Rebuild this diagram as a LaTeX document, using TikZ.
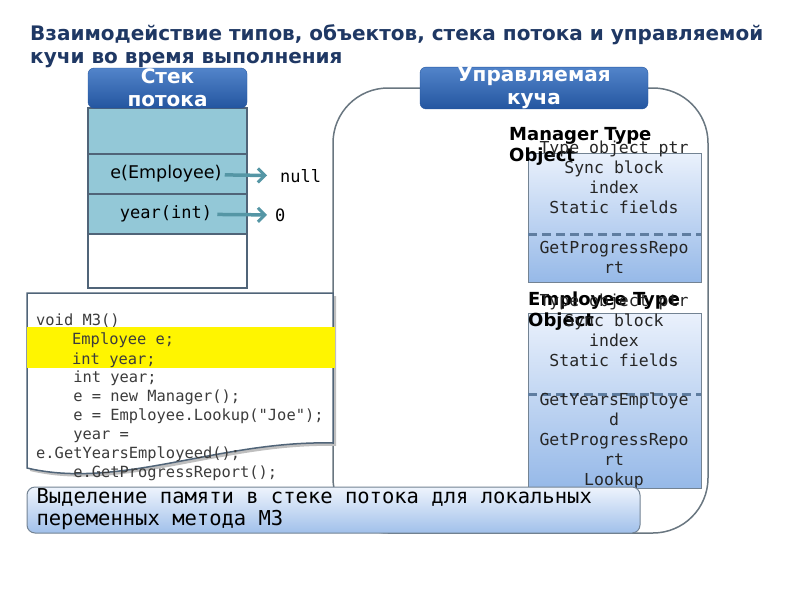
\documentclass[tikz,border=0pt]{standalone}
\usepackage{fontspec}
\setmainfont{DejaVu Sans}
\setmonofont{DejaVu Sans Mono}
\usetikzlibrary{arrows.meta}
\definecolor{titleblue}{RGB}{31, 56, 100}
\definecolor{stackfill}{RGB}{147, 200, 215}
\definecolor{frameline}{RGB}{80, 100, 120}
\definecolor{hdrtop}{RGB}{82, 132, 202}
\definecolor{hdrbot}{RGB}{36, 86, 160}
\definecolor{ptrteal}{RGB}{85, 150, 165}
\definecolor{objtop}{RGB}{234, 241, 252}
\definecolor{objbot}{RGB}{150, 185, 232}
\definecolor{divline}{RGB}{95, 125, 160}
\definecolor{heapline}{RGB}{105, 118, 128}
\definecolor{hiyellow}{RGB}{255, 245, 0}
\definecolor{codegray}{RGB}{60, 60, 60}

\tikzset{
  hdr/.style={rounded corners=6pt, top color=hdrtop, bottom color=hdrbot, draw=hdrbot,
    text=white, align=center, font=\fontsize{20}{23}\selectfont\bfseries, inner sep=0pt},
  cell/.style={draw=frameline, line width=1.5pt, fill=stackfill, minimum width=159pt},
  ptr/.style={ptrteal, line width=3.5pt, -{Straight Barb[length=7pt, width=14pt, line width=3pt]}},
  objbox/.style={draw=frameline!80, line width=1pt, top color=objtop, bottom color=objbot,
    minimum width=173pt},
  objtext/.style={align=center, font=\fontsize{16.5}{20}\selectfont\ttfamily, text=black!85},
  objlabel/.style={align=left, anchor=west, font=\fontsize{18}{21.5}\selectfont\bfseries, inner sep=0pt},
  divider/.style={divline, line width=3pt, dash pattern=on 9pt off 5pt}
}

\begin{document}
\begin{tikzpicture}[x=1pt, y=-1pt]
  \useasboundingbox (0,0) rectangle (800,600);

  % title
  \node[anchor=north west, align=left, inner sep=0pt, text=titleblue,
        font=\fontsize{20}{23.5}\selectfont\bfseries] (title) at (30,24)
        {Взаимодействие типов, объектов, стека потока и управляемой\\кучи во время выполнения};

  % managed heap
  \node[draw=heapline, line width=1.5pt, rounded corners=55pt, minimum width=375pt,
        minimum height=445pt] (heap) at (520.5,310.5) {};
  \node[hdr, minimum width=228pt, minimum height=40pt] (heaphdr) at (534,88) {Управляемая\\куча};

  % thread stack
  \node[cell, minimum height=46pt] (c1) at (167.5,131) {};
  \node[cell, minimum height=40pt] (c2) at (167.5,174) {};
  \node[cell, minimum height=40pt] (c3) at (167.5,214) {};
  \node[cell, minimum height=54pt, fill=white] (c4) at (167.5,261) {};
  \node[hdr, minimum width=159pt, minimum height=40pt] (stackhdr) at (167.5,88) {Стек\\потока};

  \node[font=\fontsize{17.5}{20}\selectfont, inner sep=1pt] (vemp) at (166,174) {e(Employee)};
  \node[font=\fontsize{17}{20}\selectfont\ttfamily, inner sep=1pt] (vyear) at (166,214) {year(int)};
  \node[font=\fontsize{17}{20}\selectfont\ttfamily, anchor=west, inner sep=1pt] (nnull) at (279,176) {null};
  \node[font=\fontsize{17}{20}\selectfont\ttfamily, anchor=west, inner sep=1pt] (nzero) at (274,215) {0};
  \draw[ptr, shorten <=2pt, shorten >=12pt] (vemp) -- (nnull);
  \draw[ptr, shorten <=4pt, shorten >=7pt] (vyear) -- (nzero);

  % type objects
  \node[objbox, minimum height=129pt] (mgr) at (614.5,217.5) {};
  \draw[divider] (528,234) -- (701,234);
  \node[objlabel] (mgrlbl) at (509,146.5) {Manager Type\\Object};
  \node[objtext] (mgrtop) at (614,177) {Type object ptr\\Sync block\\index\\Static fields};
  \node[objtext] (mgrbot) at (614,257) {GetProgressRepo\\rt};

  \node[objbox, minimum height=175pt] (emp) at (614.5,400.5) {};
  \draw[divider] (528,394) -- (701,394);
  \node[objlabel] (emplbl) at (528,311) {Employee Type\\Object};
  \node[objtext] (emptop) at (614,330.5) {Type object ptr\\Sync block\\index\\Static fields};
  \node[objtext] (empbot) at (614,441) {GetYearsEmploye\\d\\GetProgressRepo\\rt\\Lookup};

  % code sheet
  \fill[black!25, xshift=3pt, yshift=-3pt] (27,293) -- (333,293) -- (333,443)
        .. controls (220,440) and (120,490) .. (27,468) -- cycle;
  \filldraw[fill=white, draw=frameline, line width=1.5pt] (27,293) -- (333,293) -- (333,443)
        .. controls (220,440) and (120,490) .. (27,468) -- cycle;
  \node[anchor=north west, align=left, inner sep=0pt, text=codegray,
        font=\fontsize{15.4}{18.9}\selectfont\ttfamily] (code) at (36,314)
        {void M3()\\
         \{\\
         \phantom{xxxx}Employee e;\\
         \phantom{xxxx}int year;\\
         \phantom{xxxx}e = new Manager();\\
         \phantom{xxxx}e = Employee.Lookup("Joe");\\
         \phantom{xxxx}year =\\
         e.GetYearsEmployeed();\\
         \phantom{xxxx}e.GetProgressReport();};
  \node[fill=hiyellow, minimum width=308pt, minimum height=41pt, anchor=north west,
        inner sep=0pt] (hl) at (27,327) {};
  \node[anchor=west, align=left, inner sep=0pt, text=codegray,
        font=\fontsize{15.4}{20}\selectfont\ttfamily] (hltext) at (72,350)
        {Employee e;\\int year;};

  % caption
  \node[draw=frameline!80, line width=1pt, rounded corners=8pt, top color=objtop!80!white,
        bottom color=objbot!90, minimum width=613pt, minimum height=46pt, align=left,
        font=\fontsize{20.5}{22}\selectfont\ttfamily, inner sep=0pt] (cap) at (333.5,510)
        {\makebox[594pt][s]{Выделение памяти в стеке потока для локальных}\\
         переменных метода М3\hfill\strut};
\end{tikzpicture}
\end{document}
